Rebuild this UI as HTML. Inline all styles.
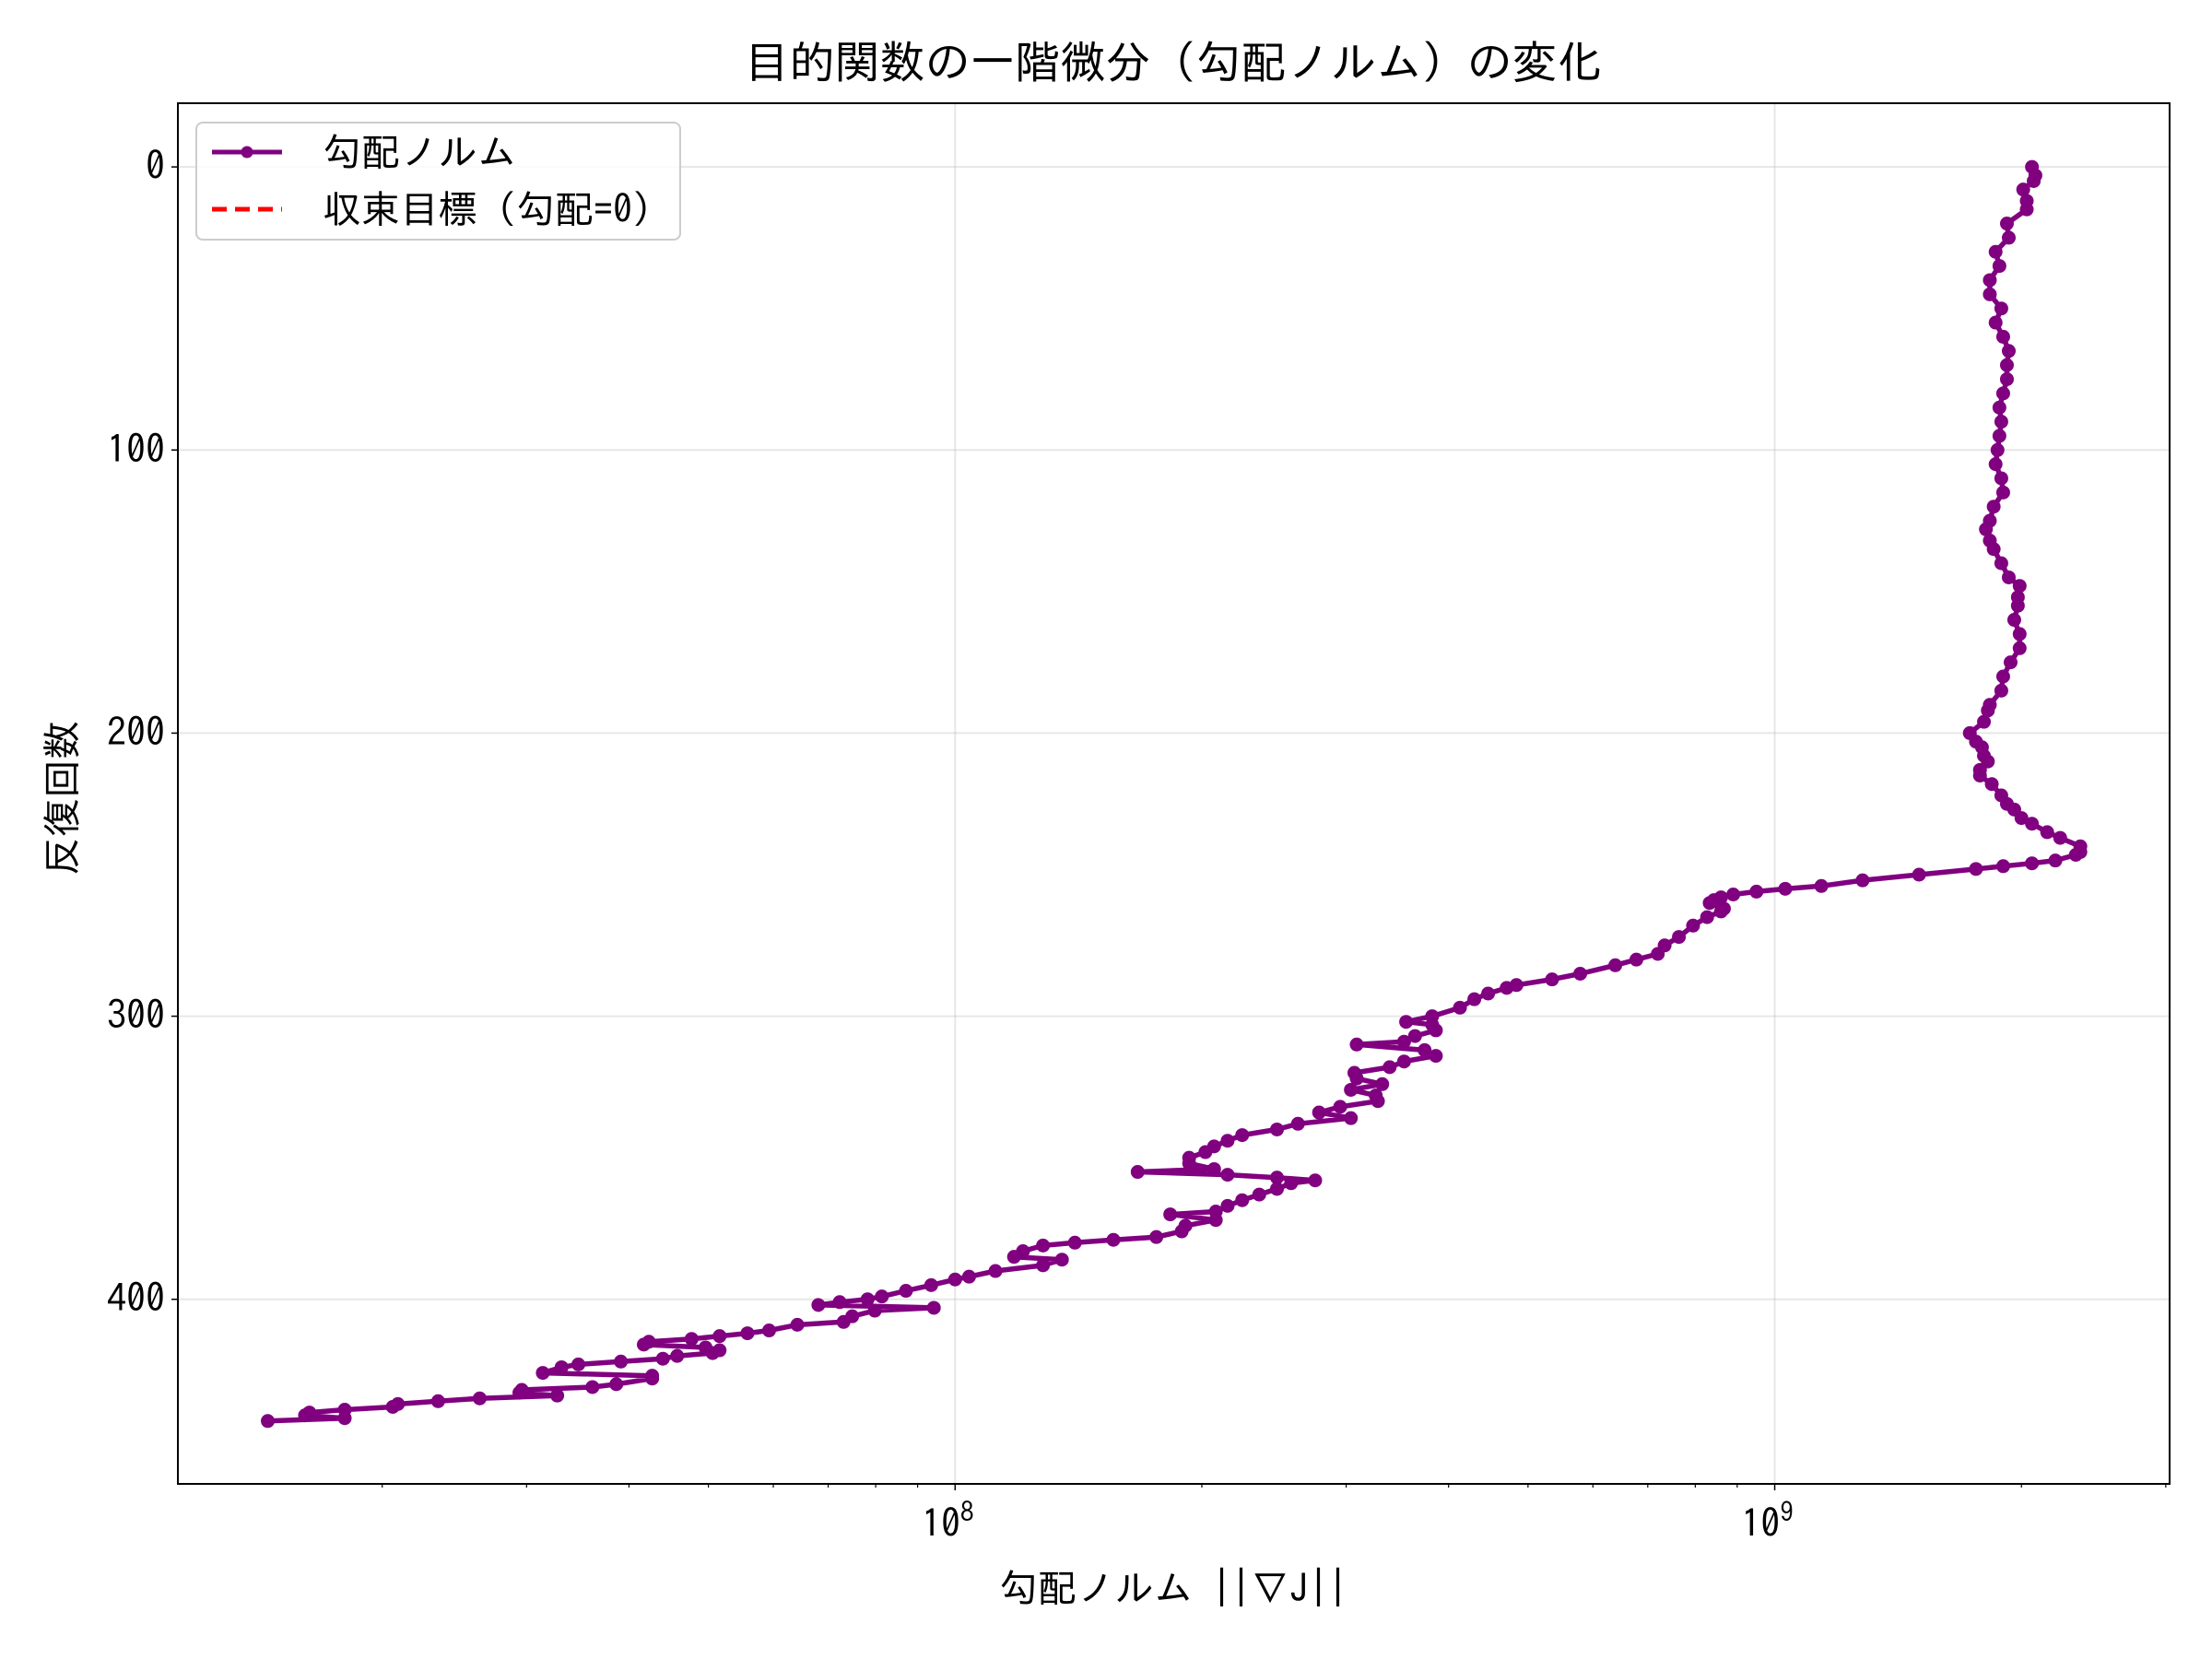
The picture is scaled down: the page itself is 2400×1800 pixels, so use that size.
<!DOCTYPE html>
<html><head><meta charset="utf-8">
<style>
html,body{margin:0;padding:0;background:#fff;}
svg{display:block;}
text{font-family:"IPAGothic","Noto Sans CJK JP",sans-serif;fill:#000;}
</style></head>
<body>
<svg id="chart" width="2400" height="1800" viewBox="0 0 2400 1800" xmlns="http://www.w3.org/2000/svg">
<rect x="0" y="0" width="2400" height="1800" fill="#fff"/>
<g id="grid"></g>
<g id="series"></g>
<rect x="193" y="112" width="2161" height="1498" fill="none" stroke="#000" stroke-width="2"/>
<g id="axes"></g>
<text x="1273" y="85" font-size="49" text-anchor="middle">目的関数の一階微分（勾配ノルム）の変化</text>
<text x="1273" y="1738" font-size="42" text-anchor="middle">勾配ノルム ||∇J||</text>
<text transform="translate(82,866) rotate(-90)" font-size="42" text-anchor="middle">反復回数</text>
<g>
<rect x="213" y="133" width="525" height="127" rx="7" fill="#fff" fill-opacity="0.8" stroke="#ccc" stroke-width="2"/>
<g>
<line x1="230" y1="165" x2="306" y2="165" stroke="#800080" stroke-width="5"/>
<circle cx="268" cy="165" r="6.5" fill="#800080"/>
<text x="350" y="180" font-size="42">勾配ノルム</text>
</g>
<g>
<line x1="230" y1="227" x2="306" y2="227" stroke="#ff0000" stroke-width="5" stroke-dasharray="16,9"/>
<text x="350" y="242" font-size="42">収束目標（勾配=0）</text>
</g>
</g>
</svg>
<script>
const iterations = [0,3,5,8,12,15,20,25,30,35,40,45,50,55,60,65,70,75,80,85,90,95,100,105,110,115,120,125,128,132,135,140,145,148,152,155,160,165,170,175,180,185,190,192,196,200,203,205,208,210,213,215,218,222,225,227,230,232,235,237,240,242,243,245,246,247,248,250,252,254,255,256,257,258,259,260,262,263,265,268,272,275,278,280,282,285,287,289,290,292,294,297,300,302,303,305,307,309,310,312,314,316,318,320,322,324,326,328,330,332,334,336,338,340,342,344,346,348,350,352,354,355,356,357,358,359,361,363,365,367,369,370,372,374,376,378,379,380,381,383,385,386,388,390,392,393,395,397,399,400,401,402,403,404,406,408,409,411,412,413,414,415,416,417,418,419,420,421,422,423,424,426,427,428,430,431,432,433,434,435,436,437,438,439,440,441,442,443];
const gradientNorms = [2.06e9,2.08e9,2.07e9,2.01e9,2.03e9,2.03e9,1.92e9,1.93e9,1.86e9,1.88e9,1.83e9,1.83e9,1.89e9,1.86e9,1.90e9,1.93e9,1.92e9,1.92e9,1.90e9,1.88e9,1.89e9,1.88e9,1.87e9,1.86e9,1.89e9,1.90e9,1.85e9,1.83e9,1.81e9,1.83e9,1.85e9,1.89e9,1.93e9,1.99e9,1.98e9,1.98e9,1.96e9,1.99e9,1.99e9,1.94e9,1.90e9,1.89e9,1.83e9,1.82e9,1.80e9,1.73e9,1.76e9,1.79e9,1.80e9,1.82e9,1.78e9,1.78e9,1.84e9,1.89e9,1.92e9,1.96e9,2.00e9,2.06e9,2.15e9,2.23e9,2.36e9,2.36e9,2.33e9,2.20e9,2.06e9,1.90e9,1.76e9,1.50e9,1.28e9,1.14e9,1.03e9,9.50e8,8.90e8,8.60e8,8.43e8,8.33e8,8.67e8,8.60e8,8.27e8,7.95e8,7.64e8,7.34e8,7.20e8,6.78e8,6.39e8,5.79e8,5.35e8,4.84e8,4.71e8,4.47e8,4.30e8,4.13e8,3.82e8,3.55e8,3.82e8,3.86e8,3.64e8,3.53e8,3.09e8,3.74e8,3.86e8,3.53e8,3.39e8,3.07e8,3.09e8,3.32e8,3.04e8,3.26e8,3.28e8,2.95e8,2.78e8,3.04e8,2.62e8,2.47e8,2.24e8,2.15e8,2.07e8,2.02e8,1.93e8,1.93e8,2.07e8,1.67e8,2.15e8,2.47e8,2.75e8,2.57e8,2.47e8,2.35e8,2.24e8,2.15e8,2.08e8,1.83e8,2.08e8,1.91e8,1.89e8,1.76e8,1.56e8,1.40e8,1.28e8,1.21e8,1.18e8,1.35e8,1.28e8,1.12e8,1.04e8,1.00e8,9.35e7,8.71e7,8.14e7,7.82e7,7.23e7,6.81e7,9.42e7,7.98e7,7.49e7,7.31e7,6.42e7,5.93e7,5.58e7,5.16e7,4.77e7,4.23e7,4.17e7,4.96e7,5.16e7,5.06e7,4.58e7,4.40e7,3.91e7,3.47e7,3.31e7,3.14e7,4.27e7,4.27e7,3.86e7,3.61e7,2.96e7,2.94e7,3.27e7,2.63e7,2.34e7,2.09e7,2.06e7,1.80e7,1.63e7,1.61e7,1.80e7,1.45e7];
const yTickValues = [0,100,200,300,400];
const xMajorExponents = [8,9];
const xMinorValues = [2e7,3e7,4e7,5e7,6e7,7e7,8e7,9e7,2e8,3e8,4e8,5e8,6e8,7e8,8e8,9e8,2e9,3e9];

const NS = 'http://www.w3.org/2000/svg';
const PL = 193, PR = 2354, PT = 112, PB = 1610;
const X_LOG_MIN = 7.0517, X_LOG_MAX = 9.4818;
const Y_MIN = -22.5, Y_MAX = 465.2;
function xScale(v){ return PL + (Math.log10(v) - X_LOG_MIN) / (X_LOG_MAX - X_LOG_MIN) * (PR - PL); }
function yScale(it){ return PT + (it - Y_MIN) / (Y_MAX - Y_MIN) * (PB - PT); }
function mk(tag, attrs, parent){ const e = document.createElementNS(NS, tag); for (const k in attrs) e.setAttribute(k, attrs[k]); parent.appendChild(e); return e; }

const grid = document.getElementById('grid');
const axes = document.getElementById('axes');
const series = document.getElementById('series');

yTickValues.forEach(t => {
  const y = yScale(t);
  const g = mk('line', {x1:PL, x2:PR, y1:y, y2:y, stroke:'#b0b0b0', 'stroke-opacity':0.3, 'stroke-width':2}, grid);
  
  
  const tk = mk('line', {x1:PL-7, x2:PL, y1:y, y2:y, stroke:'#000', 'stroke-width':1.5}, axes);
  
  
  const lb = mk('text', {x:PL-14, y:y+14, 'font-size':42, 'text-anchor':'end'}, axes);
  lb.textContent = String(t);
  
  
});

xMajorExponents.forEach(ex => {
  const x = xScale(Math.pow(10, ex));
  const g = mk('line', {x1:x, x2:x, y1:PT, y2:PB, stroke:'#b0b0b0', 'stroke-opacity':0.3, 'stroke-width':2}, grid);
  
  
  const tk = mk('line', {x1:x, x2:x, y1:PB, y2:PB+7, stroke:'#000', 'stroke-width':1.5}, axes);
  
  
  const lb = mk('text', {x:x-8, y:PB+58, 'font-size':42, 'text-anchor':'middle'}, axes);
  
  
  lb.textContent = '10';
  const sup = mk('tspan', {dy:-17, 'font-size':29}, lb);
  sup.textContent = String(ex);
});

xMinorValues.forEach(v => {
  const x = xScale(v);
  if (x < PL || x > PR) return;
  const tk = mk('line', {x1:x, x2:x, y1:PB, y2:PB+4, stroke:'#000', 'stroke-width':1.2}, axes);
  
  
});

const pts = iterations.map((it, i) => xScale(gradientNorms[i]).toFixed(1) + ',' + yScale(it).toFixed(1)).join(' ');
const line = mk('polyline', {points:pts, fill:'none', stroke:'#800080', 'stroke-width':5.5, 'stroke-linejoin':'round'}, series);


iterations.forEach((it, i) => {
  const c = mk('circle', {cx:xScale(gradientNorms[i]), cy:yScale(it), r:7.5, fill:'#800080'}, series);
  
  
});
</script>
</body></html>
